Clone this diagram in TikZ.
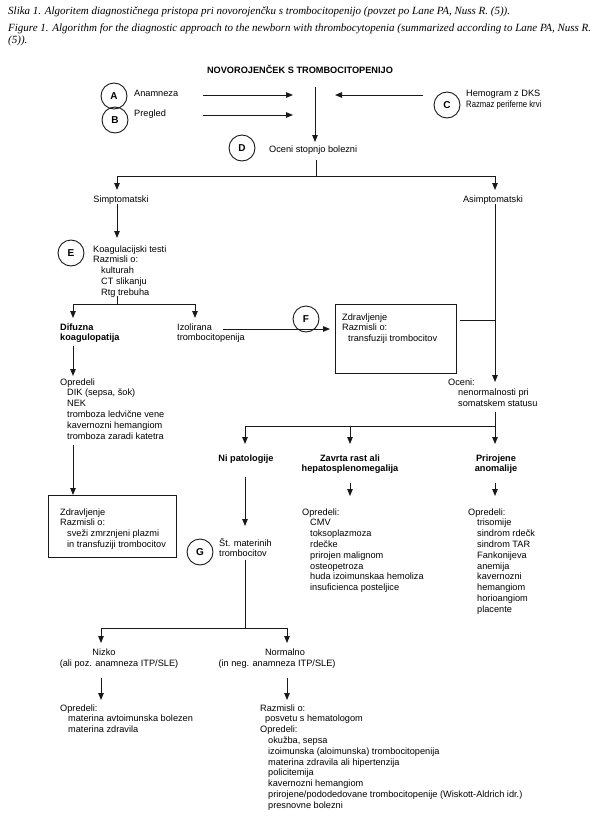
\documentclass[tikz,border=0pt]{standalone}
\usepackage{fontspec}
\setmainfont{Liberation Sans}
\newfontfamily\capfont{Liberation Serif}
\usetikzlibrary{arrows.meta}
\newcommand{\lblk}[1]{\begin{tabular}[t]{@{}l@{}}#1\end{tabular}}
\newcommand{\cblk}[1]{\begin{tabular}[t]{@{}c@{}}#1\end{tabular}}
\newcommand{\ii}[1]{\hspace*{#1pt}}
\tikzset{
  ln/.style={line width=0.9pt, draw=black!90},
  arr/.style={ln, -{Triangle[length=7pt,width=5.5pt]}},
  txt/.style={inner sep=0pt, anchor=base west, font=\fontsize{9.2}{10.8}\selectfont},
  ctxt/.style={inner sep=0pt, anchor=base, font=\fontsize{9.2}{10.8}\selectfont},
  btxt/.style={inner sep=0pt, anchor=base, font=\fontsize{9.2}{10.8}\selectfont\bfseries},
  bltxt/.style={inner sep=0pt, anchor=base west, font=\fontsize{9.2}{10.8}\selectfont\bfseries},
  captxt/.style={inner sep=0pt, anchor=base west, font=\capfont\itshape\fontsize{11}{12}\selectfont},
  lc/.style={circle, draw=black!90, line width=0.9pt, minimum size=26pt, inner sep=0pt, font=\fontsize{10}{11}\selectfont\bfseries},
  boxx/.style={draw=black!90, line width=0.9pt, inner sep=0pt, anchor=north west},
}
\begin{document}
\begin{tikzpicture}[x=1pt,y=-1pt]
\useasboundingbox[fill=white] (0,0) rectangle (600,816);
% caption
\node[captxt] (cap1) at (8,15) {Slika 1. Algoritem diagnostičnega pristopa pri novorojenčku s trombocitopenijo (povzet po Lane PA, Nuss R. (5)).};
\node[captxt] (cap2) at (8,32) {Figure 1. Algorithm for the diagnostic approach to the newborn with thrombocytopenia (summarized according to Lane PA, Nuss R.};
\node[captxt] (cap3) at (8,44) {(5)).};
% title
\node[btxt] (title) at (300,74) {NOVOROJENČEK S TROMBOCITOPENIJO};
% A B C D
\node[lc] (cA) at (114,96) {\raisebox{-4pt}{A}};
\node[lc] (cB) at (115,120) {\raisebox{-1pt}{B}};
\node[txt] (anam) at (134,96) {Anamneza};
\node[txt] (pregl) at (134,116) {Pregled};
\coordinate (a1s) at (203,95); \coordinate (a1e) at (293,95);
\coordinate (a2s) at (203,115); \coordinate (a2e) at (293,115);
\draw[arr] (a1s) -- (a1e);
\draw[arr] (a2s) -- (a2e);
\coordinate (vts) at (315,87); \coordinate (vte) at (315,142);
\draw[arr] (vts) -- (vte);
\coordinate (a3s) at (423,95); \coordinate (a3e) at (335,95);
\draw[arr] (a3s) -- (a3e);
\node[lc] (cC) at (447,105) {\raisebox{-2pt}{C}};
\node[txt] (hemo) at (466,96) {Hemogram z DKS};
\node[txt] (razm) at (466,107) {\scalebox{0.84}[1]{Razmaz periferne krvi}};
\node[lc] (cD) at (242,148) {\raisebox{-2pt}{D}};
\node[txt] (oceni) at (269,152) {Oceni stopnjo bolezni};
% split 1
\coordinate (s1t) at (316,160); \coordinate (s1m) at (316,176);
\coordinate (s1l) at (117,176); \coordinate (s1r) at (495,176);
\coordinate (s1lb) at (117,190); \coordinate (s1rb) at (495,190);
\draw[ln] (s1t) -- (s1m);
\draw[ln] (s1l) -- (s1r);
\draw[arr] (s1l) -- (s1lb);
\draw[arr] (s1r) -- (s1rb);
\node[ctxt] (simp) at (121,202) {Simptomatski};
\node[ctxt] (asimp) at (493,202) {Asimptomatski};
% E
\coordinate (e1s) at (117,204); \coordinate (e1e) at (117,238);
\draw[arr] (e1s) -- (e1e);
\node[lc] (cE) at (71,253) {\raisebox{-2pt}{E}};
\node[txt] (etxt) at (93,252) {\lblk{Koagulacijski testi\\Razmisli o:\\\ii{8}kulturah\\\ii{8}CT slikanju\\\ii{8}Rtg trebuha}};
% split 2
\coordinate (s2t) at (117,296); \coordinate (s2m) at (117,304);
\coordinate (s2l) at (73,304); \coordinate (s2r) at (195,304);
\coordinate (s2lb) at (73,318); \coordinate (s2rb) at (195,318);
\draw[ln] (s2t) -- (s2m);
\draw[ln] (s2l) -- (s2r);
\draw[arr] (s2l) -- (s2lb);
\draw[arr] (s2r) -- (s2rb);
\node[bltxt] (difu) at (60,330) {\lblk{Difuzna\\koagulopatija}};
\node[txt] (izol) at (177,330) {\lblk{Izolirana\\trombocitopenija}};
% F
\node[lc] (cF) at (306,319) {\raisebox{-2pt}{F}};
\node[boxx, minimum width=121pt, minimum height=69pt] (boxF) at (335,304) {};
\node[txt] (boxFt) at (342,320) {\lblk{Zdravljenje\\Razmisli o:\\\ii{6}transfuziji trombocitov}};
\coordinate (fs) at (223,329); \coordinate (fe) at (330,329);
\draw[arr] (fs) -- (fe);
\coordinate (bfr) at (460,320); \coordinate (rvm) at (495,320);
\draw[ln] (bfr) -- (rvm);
% right vertical
\coordinate (rvs) at (495,204); \coordinate (rve) at (495,382);
\draw[arr] (rvs) -- (rve);
\node[txt] (ocn) at (448,385) {\lblk{Oceni:\\\ii{10}nenormalnosti pri\\\ii{10}somatskem statusu}};
% split 3
\coordinate (s3t) at (495,412); \coordinate (s3m) at (495,426);
\coordinate (s3l) at (245,426); \coordinate (s3c) at (350,426);
\coordinate (s3lb) at (245,444); \coordinate (s3cb) at (350,444); \coordinate (s3rb) at (495,444);
\draw[ln] (s3t) -- (s3m);
\draw[ln] (s3l) -- (s3m);
\draw[arr] (s3l) -- (s3lb);
\draw[arr] (s3c) -- (s3cb);
\draw[arr] (s3m) -- (s3rb);
\node[btxt] (nipat) at (246,461) {Ni patologije};
\node[btxt] (zavr) at (350,461) {\cblk{Zavrta rast ali\\hepatosplenomegalija}};
\node[btxt] (prir) at (496,461) {\cblk{Prirojene\\anomalije}};
\coordinate (zas) at (350,483); \coordinate (zae) at (350,496);
\coordinate (pas) at (495,483); \coordinate (pae) at (495,496);
\draw[arr] (zas) -- (zae);
\draw[arr] (pas) -- (pae);
\node[txt] (zopr) at (302,515) {\lblk{Opredeli:\\\ii{8}CMV\\\ii{8}toksoplazmoza\\\ii{8}rdečke\\\ii{8}prirojen malignom\\\ii{8}osteopetroza\\\ii{8}huda izoimunskaa hemoliza\\\ii{8}insuficienca posteljice}};
\node[txt] (popr) at (468,515) {\lblk{Opredeli:\\\ii{9}trisomije\\\ii{9}sindrom rdečk\\\ii{9}sindrom TAR\\\ii{9}Fankonijeva\\\ii{9}anemija\\\ii{9}kavernozni\\\ii{9}hemangiom\\\ii{9}horioangiom\\\ii{9}placente}};
% left column
\coordinate (ds) at (73,346); \coordinate (de) at (73,376);
\draw[arr] (ds) -- (de);
\node[txt] (dopr) at (60,385) {\lblk{Opredeli\\\ii{7}DIK (sepsa, šok)\\\ii{7}NEK\\\ii{7}tromboza ledvične vene\\\ii{7}kavernozni hemangiom\\\ii{7}tromboza zaradi katetra}};
\node[boxx, minimum width=128pt, minimum height=62pt] (boxL) at (48,495) {};
\coordinate (d2s) at (73,445);
\draw[arr] (d2s) -- (boxL.north -| d2s);
\node[txt] (boxLt) at (60,515) {\lblk{Zdravljenje\\Razmisli o:\\\ii{7}sveži zmrznjeni plazmi\\\ii{7}in transfuziji trombocitov}};
% G
\coordinate (ns) at (245,477); \coordinate (ne) at (245,526);
\draw[arr] (ns) -- (ne);
\node[lc] (cG) at (200,552) {\raisebox{-2pt}{G}};
\node[txt] (stm) at (219,546) {\lblk{Št. materinih\\trombocitov}};
\coordinate (s4t) at (245,560); \coordinate (s4m) at (245,628);
\coordinate (s4l) at (101,628); \coordinate (s4r) at (287,628);
\coordinate (s4lb) at (101,643); \coordinate (s4rb) at (287,643);
\draw[ln] (s4t) -- (s4m);
\draw[ln] (s4l) -- (s4r);
\draw[arr] (s4l) -- (s4lb);
\draw[arr] (s4r) -- (s4rb);
\node[ctxt] (nizko) at (104,655) {Nizko};
\node[ctxt] (nizko2) at (119,666) {(ali poz. anamneza ITP/SLE)};
\node[ctxt] (norm) at (285,655) {Normalno};
\node[ctxt] (norm2) at (277,666) {(in neg. anamneza ITP/SLE)};
\coordinate (n1s) at (101,678); \coordinate (n1e) at (101,700);
\coordinate (n2s) at (287,678); \coordinate (n2e) at (287,700);
\draw[arr] (n1s) -- (n1e);
\draw[arr] (n2s) -- (n2e);
\node[txt] (nopr) at (60,711) {\lblk{Opredeli:\\\ii{8}materina avtoimunska bolezen\\\ii{8}materina zdravila}};
\node[txt] (ropr) at (260,711) {\lblk{Razmisli o:\\\ii{5}posvetu s hematologom\\Opredeli:\\\ii{8}okužba, sepsa\\\ii{8}izoimunska (aloimunska) trombocitopenija\\\ii{8}materina zdravila ali hipertenzija\\\ii{8}policitemija\\\ii{8}kavernozni hemangiom\\\ii{8}prirojene/pododedovane trombocitopenije (Wiskott-Aldrich idr.)\\\ii{8}presnovne bolezni}};
\end{tikzpicture}
\end{document}
